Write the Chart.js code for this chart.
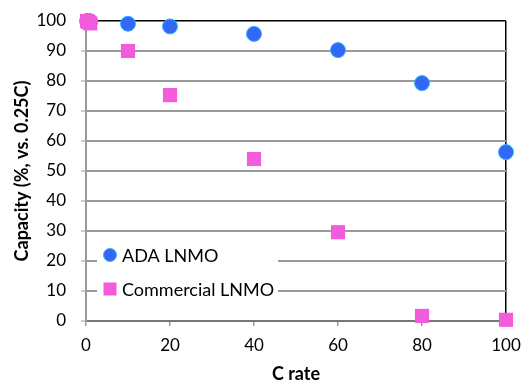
<!DOCTYPE html>
<html>
<head>
<meta charset="utf-8">
<script src="https://cdn.jsdelivr.net/npm/chart.js@4"></script>
<style>
    html, body { margin: 0; padding: 0; background: #fff; }
    #wrap { width: 522px; height: 382px; }
</style>
</head>
<body>
<div id="wrap"><canvas id="c" width="522" height="382"></canvas></div>
<script>
// values
const cRate = [0.25, 0.5, 1, 10, 20, 40, 60, 80, 100];
const adaLnmo = [100, 100, 99.9, 99.1, 98.2, 95.7, 90.3, 79.3, 56.3];
const commercialLnmo = [100, 99.7, 99.2, 90.0, 75.3, 54.0, 29.6, 1.7, 0.4];
const seriesNames = ['ADA LNMO', 'Commercial LNMO'];
const xTicks = [0, 20, 40, 60, 80, 100];
const yTicks = [0, 10, 20, 30, 40, 50, 60, 70, 80, 90, 100];

const FONT = 'Lato, "Open Sans", sans-serif';
const BLUE = '#3467f6';
const BLUE_EDGE = '#2bb6ff';
const PINK = '#f25bdc';

function toPoints(xs, ys) {
    return xs.map((x, i) => ({ x, y: ys[i] }));
}

// legend sits inside the plot, on a white box, like the original
const innerLegend = {
    id: 'innerLegend',
    afterDraw(chart) {
        const { ctx, chartArea } = chart;
        const left = chartArea.left + 11;
        const top = chartArea.top + 217;
        ctx.save();
        ctx.fillStyle = '#fff';
        ctx.fillRect(left, top, 181, 68);
        ctx.font = '18px ' + FONT;
        ctx.textBaseline = 'middle';
        // circle
        ctx.beginPath();
        ctx.arc(left + 13, top + 17, 6.5, 0, Math.PI * 2);
        ctx.fillStyle = BLUE;
        ctx.fill();
        ctx.strokeStyle = BLUE_EDGE;
        ctx.lineWidth = 1;
        ctx.stroke();
        ctx.fillStyle = '#000';
        ctx.fillText(seriesNames[0], left + 25, top + 18);
        // square
        ctx.fillStyle = PINK;
        ctx.fillRect(left + 6.5, top + 44.5, 13, 13);
        ctx.fillStyle = '#000';
        ctx.fillText(seriesNames[1], left + 25, top + 52);
        ctx.restore();
    },
};

new Chart(document.getElementById('c'), {
    type: 'scatter',
    data: {
        datasets: [
            {
                label: seriesNames[1],
                data: toPoints(cRate, commercialLnmo),
                pointStyle: 'rect',
                pointRadius: 10,
                pointHoverRadius: 10,
                backgroundColor: PINK,
                borderColor: PINK,
                borderWidth: 0,
                clip: false,
            },
            {
                label: seriesNames[0],
                data: toPoints(cRate, adaLnmo),
                pointStyle: 'circle',
                pointRadius: 7.5,
                pointHoverRadius: 7.5,
                backgroundColor: BLUE,
                borderColor: BLUE_EDGE,
                borderWidth: 1,
                clip: false,
            },
        ],
    },
    options: {
        responsive: false,
        animation: false,
        events: [],
        layout: { padding: { left: 0, right: 16, top: 21, bottom: 0 } },
        plugins: {
            legend: { display: false },
            tooltip: { enabled: false },
        },
        scales: {
            x: {
                type: 'linear',
                min: 0,
                max: 100,
                afterBuildTicks(scale) {
                    scale.ticks = xTicks.map((v) => ({ value: v }));
                },
                afterFit(scale) {
                    scale.height = 61;
                    scale.paddingLeft = 0;
                    scale.paddingRight = 0;
                },
                grid: {
                    color: (c) => (c.tick && c.tick.value === 100 ? '#000' : 'rgba(0,0,0,0)'),
                    lineWidth: 1.5,
                    tickColor: '#999',
                    tickLength: 5,
                    drawTicks: true,
                },
                border: { color: '#777', width: 2 },
                ticks: {
                    color: '#000',
                    font: { family: FONT, size: 17 },
                    padding: 9,
                    maxRotation: 0,
                },
                title: {
                    display: true,
                    text: 'C rate',
                    color: '#000',
                    font: { family: FONT, size: 18, weight: 'bold', lineHeight: 1 },
                    padding: { top: 0, bottom: -1 },
                },
            },
            y: {
                type: 'linear',
                min: 0,
                max: 100,
                afterBuildTicks(scale) {
                    scale.ticks = yTicks.map((v) => ({ value: v }));
                },
                afterFit(scale) {
                    scale.width = 86;
                    scale.paddingTop = 0;
                    scale.paddingBottom = 0;
                },
                grid: {
                    color: (c) => {
                        if (!c.tick) return '#aaa';
                        if (c.tick.value === 100) return '#000';
                        if (c.tick.value === 0) return 'rgba(0,0,0,0)';
                        return '#9a9a9a';
                    },
                    lineWidth: (c) => (c.tick && c.tick.value === 100 ? 1.5 : 2),
                    tickColor: '#ccc',
                    tickLength: 5,
                },
                border: { color: '#999', width: 2 },
                ticks: {
                    color: '#000',
                    font: { family: FONT, size: 17 },
                    padding: 15,
                },
                title: {
                    display: true,
                    text: 'Capacity (%, vs. 0.25C)',
                    color: '#000',
                    font: { family: FONT, size: 18, weight: 'bold', lineHeight: 1 },
                    padding: { top: 13, bottom: 0 },
                },
            },
        },
    },
    plugins: [innerLegend],
});
</script>
</body>
</html>
